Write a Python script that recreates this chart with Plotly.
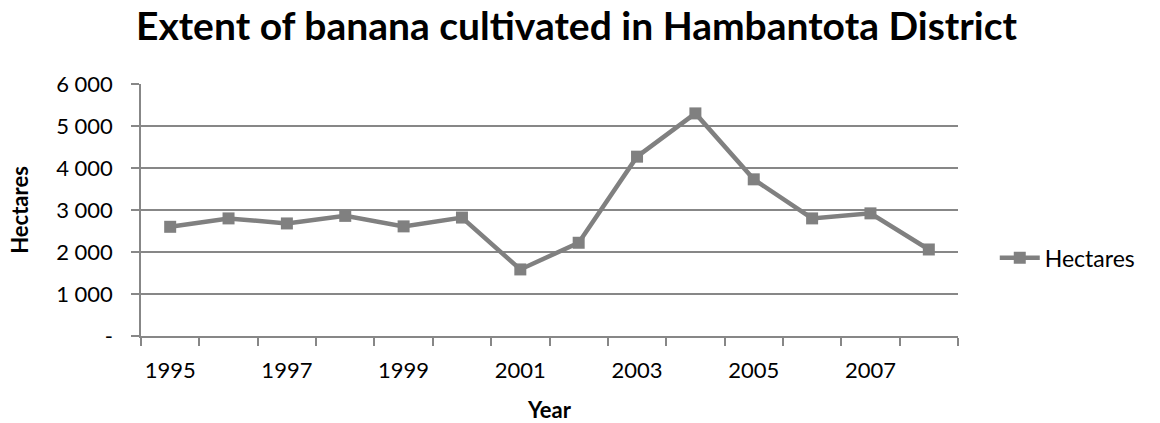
import plotly.graph_objects as go

years = [1995, 1996, 1997, 1998, 1999, 2000, 2001, 2002, 2003, 2004, 2005, 2006, 2007, 2008]
hectares = [2600, 2800, 2680, 2860, 2610, 2820, 1585, 2220, 4270, 5300, 3730, 2800, 2920, 2060]

y_tickvals = [0, 1000, 2000, 3000, 4000, 5000, 6000]
y_ticktext = ["-", "1 000", "2 000", "3 000", "4 000", "5 000", "6 000"]
x_label_years = [1995, 1997, 1999, 2001, 2003, 2005, 2007]
x_boundaries = [y - 0.5 for y in years] + [years[-1] + 0.5]

FONT = "Lato"
GRAY = "#878787"
LINE = "#808080"

fig = go.Figure()
fig.add_trace(go.Scatter(
    x=years, y=hectares, name="Hectares", mode="lines+markers",
    line=dict(color=LINE, width=4.5),
    marker=dict(symbol="square", size=12, color=LINE),
))

fig.update_layout(
    width=1160, height=423,
    margin=dict(l=141, r=202, t=84, b=87),
    paper_bgcolor="white", plot_bgcolor="white",
    font=dict(family=FONT, size=22, color="black"),
    title=dict(text="<b>Extent of banana cultivated in Hambantota District</b>",
               x=0.497, xanchor="center", y=1 - 26 / 423, yanchor="middle",
               font=dict(family=FONT, size=39, color="black")),
    showlegend=True,
    legend=dict(x=1.045, y=0.31, xanchor="left", yanchor="middle",
                font=dict(family=FONT, size=23, color="black"),
                bgcolor="rgba(0,0,0,0)", itemwidth=40),
)

fig.update_xaxes(
    range=[years[0] - 0.5, years[-1] + 0.5], automargin=False,
    tickmode="array", tickvals=x_label_years, ticktext=[str(v) for v in x_label_years],
    ticks="", showgrid=False, zeroline=False,
    showline=True, linecolor=GRAY, linewidth=1.5,
    ticklabelstandoff=14,
    minor=dict(tickmode="array", tickvals=x_boundaries, ticks="outside",
               ticklen=8, tickwidth=1.5, tickcolor=GRAY, showgrid=False),
    title=dict(text="<b>Year</b>", font=dict(family=FONT, size=22, color="black"), standoff=22),
)
fig.update_yaxes(
    range=[0, 6000], automargin=True,
    tickmode="array", tickvals=y_tickvals, ticktext=y_ticktext,
    ticks="outside", ticklen=8, tickwidth=1.5, tickcolor=GRAY,
    showgrid=True, gridcolor=GRAY, gridwidth=1.5, zeroline=False,
    showline=True, linecolor=GRAY, linewidth=1.5,
    ticklabelstandoff=14,
    title=dict(text="<b>Hectares</b>", font=dict(family=FONT, size=22, color="black"), standoff=21),
)

fig.write_html("out.html")
